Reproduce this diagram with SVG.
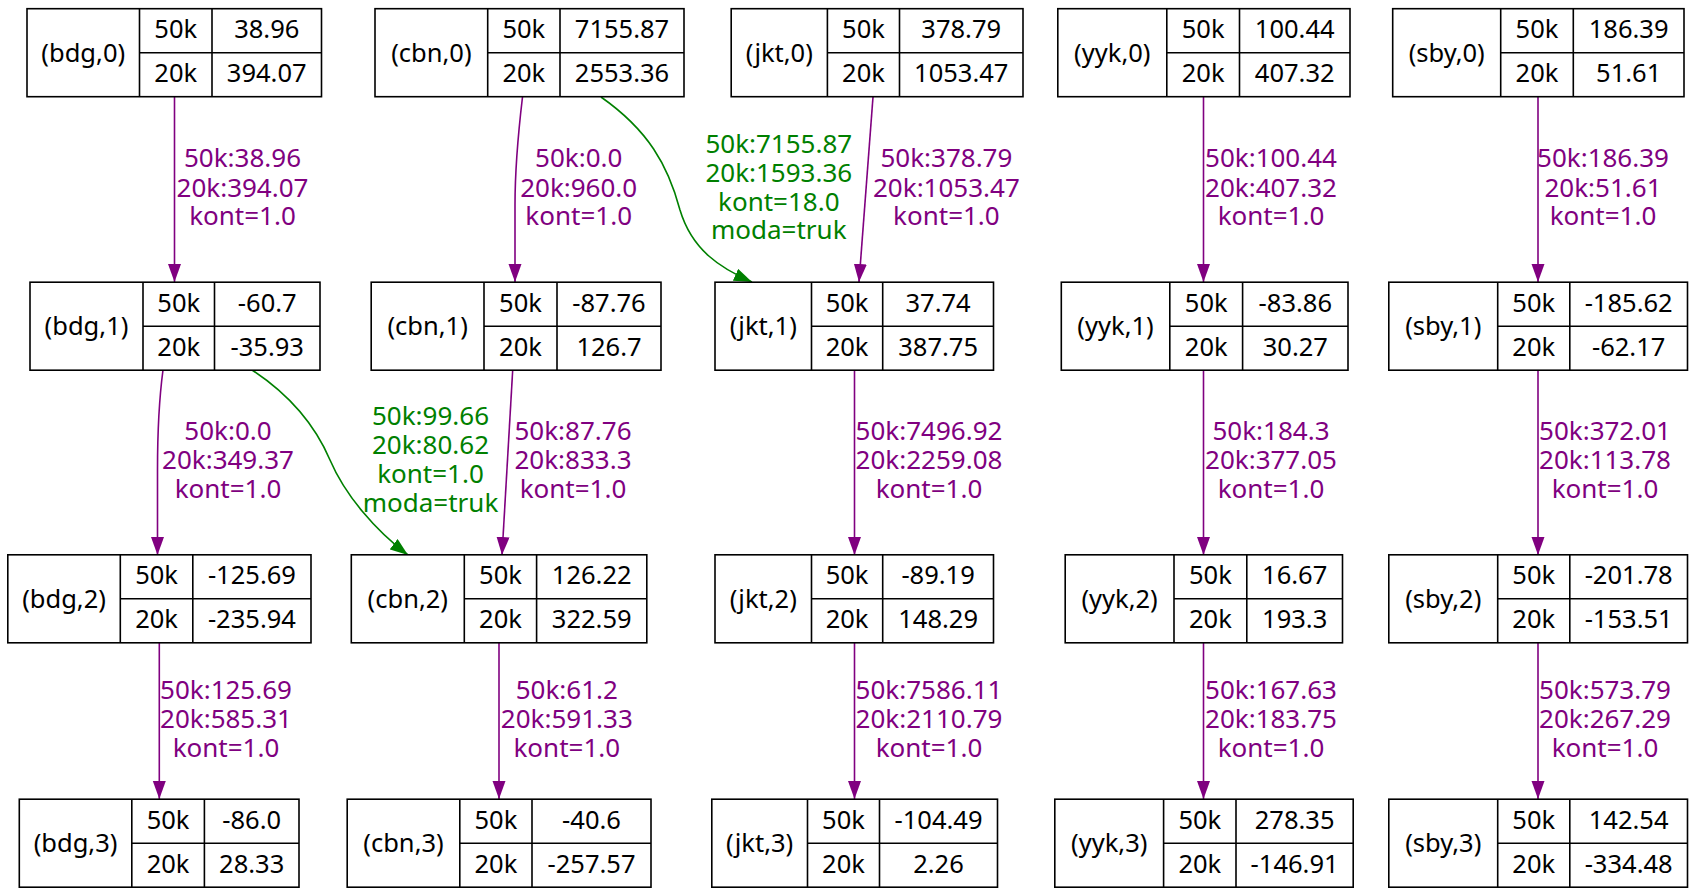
<svg xmlns="http://www.w3.org/2000/svg" width="1696" height="896" viewBox="0 0 1696 896">
<defs>
<style>
text{font-family:"Noto Sans","Open Sans",sans-serif;font-size:25.5px;text-anchor:middle}
.p text,.g text{font-size:26px}
.box{fill:#fff;stroke:#000;stroke-width:1.6}
.ln{stroke:#000;stroke-width:1.6}
.p{fill:#800080}
.g{fill:#008000}
.ep{fill:none;stroke:#800080;stroke-width:1.6;marker-end:url(#ap)}
.eg{fill:none;stroke:#008000;stroke-width:1.6;marker-end:url(#ag)}
</style>
<marker id="ap" markerUnits="userSpaceOnUse" markerWidth="20" markerHeight="14" refX="18" refY="6.5" orient="auto"><path d="M0,0L18,6.5L0,13z" fill="#800080"/></marker>
<marker id="ag" markerUnits="userSpaceOnUse" markerWidth="20" markerHeight="14" refX="18" refY="6.5" orient="auto"><path d="M0,0L18,6.5L0,13z" fill="#008000"/></marker>
</defs>
<rect width="1696" height="896" fill="#fff"/>
<g id="edges">
<path class="ep" d="M174.5,97L174.5,282"/>
<path class="ep" d="M522.5,97C518,135 515,165 515,205L515,282"/>
<path class="eg" d="M601,97C648,130 668,165 680,210C692,250 720,268 752,282"/>
<path class="ep" d="M873,97L859,282"/>
<path class="ep" d="M1203.5,97L1203.5,282"/>
<path class="ep" d="M1538,97L1538,282"/>
<path class="ep" d="M163,370C159,400 157.5,430 157.5,470L157.5,555"/>
<path class="eg" d="M252,370C290,395 315,425 330,460C345,495 375,530 408,555"/>
<path class="ep" d="M512.7,370L502,555"/>
<path class="ep" d="M854.5,370L854.5,555"/>
<path class="ep" d="M1203.5,370L1203.5,555"/>
<path class="ep" d="M1538,370L1538,555"/>
<path class="ep" d="M159.3,643L159.3,799"/>
<path class="ep" d="M499,643L499,799"/>
<path class="ep" d="M854.5,643L854.5,799"/>
<path class="ep" d="M1203.5,643L1203.5,799"/>
<path class="ep" d="M1538,643L1538,799"/>
<g class="p">
<text x="242.5" y="167">50k:38.96</text><text x="242.5" y="196.5">20k:394.07</text><text x="242.5" y="225">kont=1.0</text>
<text x="578.7" y="167">50k:0.0</text><text x="578.7" y="196.5">20k:960.0</text><text x="578.7" y="225">kont=1.0</text>
<text x="946.4" y="167">50k:378.79</text><text x="946.4" y="196.5">20k:1053.47</text><text x="946.4" y="225">kont=1.0</text>
<text x="1271" y="167">50k:100.44</text><text x="1271" y="196.5">20k:407.32</text><text x="1271" y="225">kont=1.0</text>
<text x="1603" y="167">50k:186.39</text><text x="1603" y="196.5">20k:51.61</text><text x="1603" y="225">kont=1.0</text>
<text x="228" y="440">50k:0.0</text><text x="228" y="469">20k:349.37</text><text x="228" y="498">kont=1.0</text>
<text x="573" y="440">50k:87.76</text><text x="573" y="469">20k:833.3</text><text x="573" y="498">kont=1.0</text>
<text x="929" y="440">50k:7496.92</text><text x="929" y="469">20k:2259.08</text><text x="929" y="498">kont=1.0</text>
<text x="1271" y="440">50k:184.3</text><text x="1271" y="469">20k:377.05</text><text x="1271" y="498">kont=1.0</text>
<text x="1605" y="440">50k:372.01</text><text x="1605" y="469">20k:113.78</text><text x="1605" y="498">kont=1.0</text>
<text x="226" y="698.5">50k:125.69</text><text x="226" y="727.5">20k:585.31</text><text x="226" y="756.5">kont=1.0</text>
<text x="566.8" y="698.5">50k:61.2</text><text x="566.8" y="727.5">20k:591.33</text><text x="566.8" y="756.5">kont=1.0</text>
<text x="929" y="698.5">50k:7586.11</text><text x="929" y="727.5">20k:2110.79</text><text x="929" y="756.5">kont=1.0</text>
<text x="1271" y="698.5">50k:167.63</text><text x="1271" y="727.5">20k:183.75</text><text x="1271" y="756.5">kont=1.0</text>
<text x="1605" y="698.5">50k:573.79</text><text x="1605" y="727.5">20k:267.29</text><text x="1605" y="756.5">kont=1.0</text>
</g>
<g class="g">
<text x="778.8" y="153">50k:7155.87</text><text x="778.8" y="182">20k:1593.36</text><text x="778.8" y="210.8">kont=18.0</text><text x="778.8" y="239">moda=truk</text>
<text x="430.5" y="425">50k:99.66</text><text x="430.5" y="454">20k:80.62</text><text x="430.5" y="482.7">kont=1.0</text><text x="430.5" y="511.5">moda=truk</text>
</g>
</g>
<g id="bdg0"><rect class="box" x="27" y="8.7" width="294.5" height="88"/><path class="ln" d="M139.5,8.7V96.7M212,8.7V96.7M139.5,52.7H321.5"/><text x="83.25" y="61.7">(bdg,0)</text><text x="175.75" y="38.2">50k</text><text x="266.75" y="38.2">38.96</text><text x="175.75" y="82.2">20k</text><text x="266.75" y="82.2">394.07</text></g>
<g id="cbn0"><rect class="box" x="375" y="8.7" width="309" height="88"/><path class="ln" d="M487.7,8.7V96.7M560,8.7V96.7M487.7,52.7H684"/><text x="431.35" y="61.7">(cbn,0)</text><text x="523.85" y="38.2">50k</text><text x="622" y="38.2">7155.87</text><text x="523.85" y="82.2">20k</text><text x="622" y="82.2">2553.36</text></g>
<g id="jkt0"><rect class="box" x="731.2" y="8.7" width="291.8" height="88"/><path class="ln" d="M827.4,8.7V96.7M899.5,8.7V96.7M827.4,52.7H1023"/><text x="779.3" y="61.7">(jkt,0)</text><text x="863.45" y="38.2">50k</text><text x="961.25" y="38.2">378.79</text><text x="863.45" y="82.2">20k</text><text x="961.25" y="82.2">1053.47</text></g>
<g id="yyk0"><rect class="box" x="1057.8" y="8.7" width="292.2" height="88"/><path class="ln" d="M1166.8,8.7V96.7M1239.5,8.7V96.7M1166.8,52.7H1350"/><text x="1112.3" y="61.7">(yyk,0)</text><text x="1203.15" y="38.2">50k</text><text x="1294.75" y="38.2">100.44</text><text x="1203.15" y="82.2">20k</text><text x="1294.75" y="82.2">407.32</text></g>
<g id="sby0"><rect class="box" x="1392.7" y="8.7" width="291.3" height="88"/><path class="ln" d="M1500.7,8.7V96.7M1573.3,8.7V96.7M1500.7,52.7H1684"/><text x="1446.7" y="61.7">(sby,0)</text><text x="1537" y="38.2">50k</text><text x="1628.65" y="38.2">186.39</text><text x="1537" y="82.2">20k</text><text x="1628.65" y="82.2">51.61</text></g>
<g id="bdg1"><rect class="box" x="30" y="282.2" width="290" height="88"/><path class="ln" d="M143,282.2V370.2M214.5,282.2V370.2M143,326.2H320"/><text x="86.5" y="335.2">(bdg,1)</text><text x="178.75" y="311.7">50k</text><text x="267.25" y="311.7">-60.7</text><text x="178.75" y="355.7">20k</text><text x="267.25" y="355.7">-35.93</text></g>
<g id="cbn1"><rect class="box" x="371.2" y="282.2" width="289.8" height="88"/><path class="ln" d="M484,282.2V370.2M557,282.2V370.2M484,326.2H661"/><text x="427.6" y="335.2">(cbn,1)</text><text x="520.5" y="311.7">50k</text><text x="609" y="311.7">-87.76</text><text x="520.5" y="355.7">20k</text><text x="609" y="355.7">126.7</text></g>
<g id="jkt1"><rect class="box" x="715" y="282.2" width="278.5" height="88"/><path class="ln" d="M811.5,282.2V370.2M882.7,282.2V370.2M811.5,326.2H993.5"/><text x="763.25" y="335.2">(jkt,1)</text><text x="847.1" y="311.7">50k</text><text x="938.1" y="311.7">37.74</text><text x="847.1" y="355.7">20k</text><text x="938.1" y="355.7">387.75</text></g>
<g id="yyk1"><rect class="box" x="1061.3" y="282.2" width="286.7" height="88"/><path class="ln" d="M1169.8,282.2V370.2M1242.6,282.2V370.2M1169.8,326.2H1348"/><text x="1115.55" y="335.2">(yyk,1)</text><text x="1206.2" y="311.7">50k</text><text x="1295.3" y="311.7">-83.86</text><text x="1206.2" y="355.7">20k</text><text x="1295.3" y="355.7">30.27</text></g>
<g id="sby1"><rect class="box" x="1388.8" y="282.2" width="298.7" height="88"/><path class="ln" d="M1497.7,282.2V370.2M1569.8,282.2V370.2M1497.7,326.2H1687.5"/><text x="1443.25" y="335.2">(sby,1)</text><text x="1533.75" y="311.7">50k</text><text x="1628.65" y="311.7">-185.62</text><text x="1533.75" y="355.7">20k</text><text x="1628.65" y="355.7">-62.17</text></g>
<g id="bdg2"><rect class="box" x="7.8" y="554.8" width="303.2" height="88"/><path class="ln" d="M120.3,554.8V642.8M192.8,554.8V642.8M120.3,598.8H311"/><text x="64.05" y="607.8">(bdg,2)</text><text x="156.55" y="584.3">50k</text><text x="251.9" y="584.3">-125.69</text><text x="156.55" y="628.3">20k</text><text x="251.9" y="628.3">-235.94</text></g>
<g id="cbn2"><rect class="box" x="351.3" y="554.8" width="295.5" height="88"/><path class="ln" d="M464.3,554.8V642.8M536.6,554.8V642.8M464.3,598.8H646.8"/><text x="407.8" y="607.8">(cbn,2)</text><text x="500.45" y="584.3">50k</text><text x="591.7" y="584.3">126.22</text><text x="500.45" y="628.3">20k</text><text x="591.7" y="628.3">322.59</text></g>
<g id="jkt2"><rect class="box" x="715" y="554.8" width="278.5" height="88"/><path class="ln" d="M811.5,554.8V642.8M882.7,554.8V642.8M811.5,598.8H993.5"/><text x="763.25" y="607.8">(jkt,2)</text><text x="847.1" y="584.3">50k</text><text x="938.1" y="584.3">-89.19</text><text x="847.1" y="628.3">20k</text><text x="938.1" y="628.3">148.29</text></g>
<g id="yyk2"><rect class="box" x="1065.2" y="554.8" width="277.3" height="88"/><path class="ln" d="M1174,554.8V642.8M1246.8,554.8V642.8M1174,598.8H1342.5"/><text x="1119.6" y="607.8">(yyk,2)</text><text x="1210.4" y="584.3">50k</text><text x="1294.65" y="584.3">16.67</text><text x="1210.4" y="628.3">20k</text><text x="1294.65" y="628.3">193.3</text></g>
<g id="sby2"><rect class="box" x="1388.8" y="554.8" width="298.7" height="88"/><path class="ln" d="M1497.7,554.8V642.8M1569.8,554.8V642.8M1497.7,598.8H1687.5"/><text x="1443.25" y="607.8">(sby,2)</text><text x="1533.75" y="584.3">50k</text><text x="1628.65" y="584.3">-201.78</text><text x="1533.75" y="628.3">20k</text><text x="1628.65" y="628.3">-153.51</text></g>
<g id="bdg3"><rect class="box" x="19.3" y="799.2" width="279.7" height="88"/><path class="ln" d="M131.8,799.2V887.2M204.4,799.2V887.2M131.8,843.2H299"/><text x="75.55" y="852.2">(bdg,3)</text><text x="168.1" y="828.7">50k</text><text x="251.7" y="828.7">-86.0</text><text x="168.1" y="872.7">20k</text><text x="251.7" y="872.7">28.33</text></g>
<g id="cbn3"><rect class="box" x="347.2" y="799.2" width="303.8" height="88"/><path class="ln" d="M459.8,799.2V887.2M532,799.2V887.2M459.8,843.2H651"/><text x="403.5" y="852.2">(cbn,3)</text><text x="495.9" y="828.7">50k</text><text x="591.5" y="828.7">-40.6</text><text x="495.9" y="872.7">20k</text><text x="591.5" y="872.7">-257.57</text></g>
<g id="jkt3"><rect class="box" x="711.8" y="799.2" width="285.7" height="88"/><path class="ln" d="M807.5,799.2V887.2M879.5,799.2V887.2M807.5,843.2H997.5"/><text x="759.65" y="852.2">(jkt,3)</text><text x="843.5" y="828.7">50k</text><text x="938.5" y="828.7">-104.49</text><text x="843.5" y="872.7">20k</text><text x="938.5" y="872.7">2.26</text></g>
<g id="yyk3"><rect class="box" x="1054.8" y="799.2" width="298.4" height="88"/><path class="ln" d="M1163.6,799.2V887.2M1236,799.2V887.2M1163.6,843.2H1353.2"/><text x="1109.2" y="852.2">(yyk,3)</text><text x="1199.8" y="828.7">50k</text><text x="1294.6" y="828.7">278.35</text><text x="1199.8" y="872.7">20k</text><text x="1294.6" y="872.7">-146.91</text></g>
<g id="sby3"><rect class="box" x="1388.8" y="799.2" width="298.7" height="88"/><path class="ln" d="M1497.7,799.2V887.2M1569.8,799.2V887.2M1497.7,843.2H1687.5"/><text x="1443.25" y="852.2">(sby,3)</text><text x="1533.75" y="828.7">50k</text><text x="1628.65" y="828.7">142.54</text><text x="1533.75" y="872.7">20k</text><text x="1628.65" y="872.7">-334.48</text></g>
</svg>
